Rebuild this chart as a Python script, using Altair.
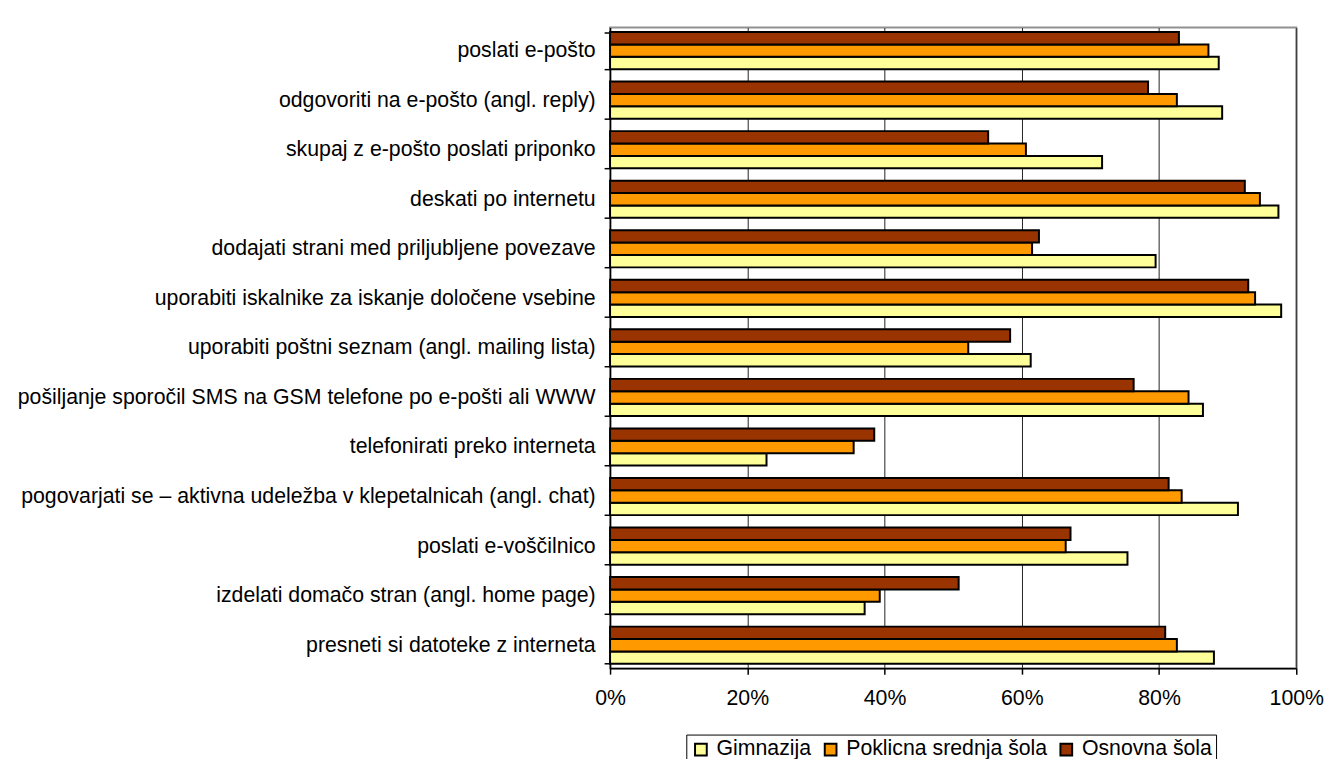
import altair as alt
import pandas as pd

categories = [
    "poslati e-pošto",
    "odgovoriti na e-pošto (angl. reply)",
    "skupaj z e-pošto poslati priponko",
    "deskati po internetu",
    "dodajati strani med priljubljene povezave",
    "uporabiti iskalnike za iskanje določene vsebine",
    "uporabiti poštni seznam (angl. mailing lista)",
    "pošiljanje sporočil SMS na GSM telefone po e-pošti ali WWW",
    "telefonirati preko interneta",
    "pogovarjati se – aktivna udeležba v klepetalnicah (angl. chat)",
    "poslati e-voščilnico",
    "izdelati domačo stran (angl. home page)",
    "presneti si datoteke z interneta",
]
series = ["Gimnazija", "Poklicna srednja šola", "Osnovna šola"]
gimnazija = [88.7, 89.2, 71.7, 97.4, 79.5, 97.8, 61.3, 86.4, 22.8, 91.5, 75.4, 37.1, 88.0]
poklicna = [87.2, 82.6, 60.6, 94.7, 61.5, 94.0, 52.2, 84.3, 35.5, 83.3, 66.4, 39.3, 82.6]
osnovna = [82.9, 78.4, 55.1, 92.5, 62.5, 93.0, 58.3, 76.3, 38.5, 81.4, 67.1, 50.8, 80.9]
colors = ["#FFFF99", "#FF9900", "#993300"]
x_ticks = [0, 20, 40, 60, 80, 100]

rows = []
for s, vals in zip(series, [gimnazija, poklicna, osnovna]):
    for c, v in zip(categories, vals):
        rows.append({"category": c, "series": s, "value": v})
df = pd.DataFrame(rows)

font = "Liberation Sans"
fs = 21.5

chart = alt.Chart(df).mark_bar(stroke="black", strokeWidth=2).encode(
    y=alt.Y("category:N", sort=categories,
            scale=alt.Scale(paddingInner=0.25, paddingOuter=0.09),
            axis=alt.Axis(title=None, labelFontSize=fs, labelFont=font, labelColor="black",
                          labelLimit=900, tickBand="extent", tickSize=6, tickColor="black",
                          tickWidth=1.5, domainColor="black", domainWidth=1.5,
                          labelPadding=9, grid=False)),
    yOffset=alt.YOffset("series:N", sort=["Osnovna šola", "Poklicna srednja šola", "Gimnazija"]),
    x=alt.X("value:Q", scale=alt.Scale(domain=[0, 100]),
            axis=alt.Axis(title=None, values=x_ticks, labelExpr="datum.value + '%'",
                          labelFontSize=fs, labelFont=font, labelColor="black",
                          labelFlush=False,
                          tickSize=6, tickColor="black", tickWidth=1.5,
                          domainColor="black", domainWidth=1.5,
                          gridColor="#222222", gridWidth=1, labelPadding=14)),
    color=alt.Color("series:N", sort=series,
                    scale=alt.Scale(domain=series, range=colors),
                    legend=alt.Legend(title=None, orient="none", direction="horizontal",
                                      legendX=77, legendY=714,
                                      labelFontSize=fs, labelFont=font, labelColor="black",
                                      labelLimit=0,
                                      symbolType="square", symbolStrokeColor="black",
                                      symbolStrokeWidth=2, symbolSize=140,
                                      strokeColor="black", fillColor="white",
                                      padding=4, columnPadding=8,
                                      labelOffset=5)),
).properties(
    width=693, height=647,
    padding={"left": 8, "top": 5, "right": 0, "bottom": 0},
).configure_view(stroke="#909090", strokeWidth=2)

chart.save("out.html", embed_options={"renderer": "svg", "actions": False})
